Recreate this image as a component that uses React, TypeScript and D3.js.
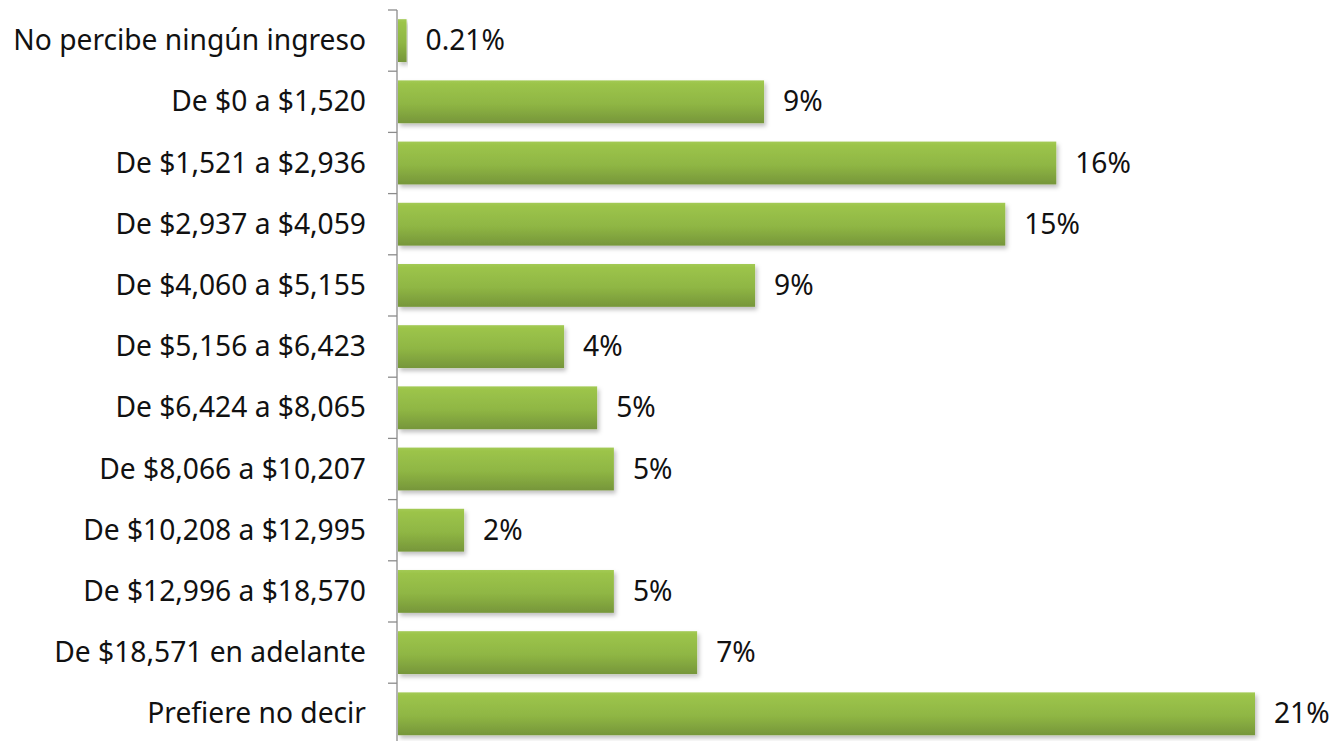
import React, { useEffect, useRef } from "react";
import * as d3 from "d3";

const categories = [
  "No percibe ningún ingreso",
  "De $0 a $1,520",
  "De $1,521 a $2,936",
  "De $2,937 a $4,059",
  "De $4,060 a $5,155",
  "De $5,156 a $6,423",
  "De $6,424 a $8,065",
  "De $8,066 a $10,207",
  "De $10,208 a $12,995",
  "De $12,996 a $18,570",
  "De $18,571 en adelante",
  "Prefiere no decir",
];

const values = [0.21, 8.97, 16.13, 14.88, 8.75, 4.07, 4.88, 5.29, 1.62, 5.29, 7.33, 21];

const valueLabels = ["0.21%", "9%", "16%", "15%", "9%", "4%", "5%", "5%", "2%", "5%", "7%", "21%"];

const W = 1336;
const H = 741;

const App: React.FC = () => {
  const svgRef = useRef<SVGSVGElement | null>(null);

  useEffect(() => {
    if (!svgRef.current) return;
    const svg = d3.select(svgRef.current);
    svg.selectAll("*").remove();

    const axisX = 397;
    const font = "'Noto Sans', sans-serif";
    const fontSize = 28.2;

    const x = d3.scaleLinear().domain([0, 21]).range([axisX + 1, 1255]);
    const y = d3
      .scaleBand<string>()
      .domain(categories)
      .range([10, 10 + 61.2 * categories.length])
      .paddingInner(0.3)
      .paddingOuter(0.15);

    const defs = svg.append("defs");
    const grad = defs
      .append("linearGradient")
      .attr("id", "barGrad")
      .attr("x1", 0)
      .attr("y1", 0)
      .attr("x2", 0)
      .attr("y2", 1);
    grad.append("stop").attr("offset", "0%").attr("stop-color", "#a3ca55");
    grad.append("stop").attr("offset", "8%").attr("stop-color", "#9cc44a");
    grad.append("stop").attr("offset", "55%").attr("stop-color", "#8fb644");
    grad.append("stop").attr("offset", "100%").attr("stop-color", "#76963a");

    const shadow = defs
      .append("filter")
      .attr("id", "shadow")
      .attr("x", "-5%")
      .attr("y", "-20%")
      .attr("width", "115%")
      .attr("height", "150%");
    shadow
      .append("feDropShadow")
      .attr("dx", 2)
      .attr("dy", 3)
      .attr("stdDeviation", 2)
      .attr("flood-color", "#000")
      .attr("flood-opacity", 0.25);

    svg.append("rect").attr("width", W).attr("height", H).attr("fill", "#fff");

    svg
      .append("g")
      .selectAll("rect")
      .data(values)
      .enter()
      .append("rect")
      .attr("x", x(0))
      .attr("y", (_, i) => y(categories[i])!)
      .attr("width", (d) => x(d) - x(0))
      .attr("height", y.bandwidth())
      .attr("fill", "url(#barGrad)")
      .attr("filter", "url(#shadow)");

    // value labels
    svg
      .append("g")
      .selectAll("text")
      .data(values)
      .enter()
      .append("text")
      .attr("x", (d) => x(d) + 19)
      .attr("y", (_, i) => y(categories[i])! + y.bandwidth() / 2)
      .attr("dy", "0.34em")
      .attr("font-family", font)
      .attr("font-size", fontSize)
      .attr("fill", "#111")
      .text((_, i) => valueLabels[i]);

    // category axis
    const axisG = svg.append("g");
    axisG
      .append("line")
      .attr("x1", axisX)
      .attr("x2", axisX)
      .attr("y1", 10)
      .attr("y2", H)
      .attr("stroke", "#8c8c8c")
      .attr("stroke-width", 1.3);

    const step = y.step();
    const tickYs = d3.range(categories.length + 1).map((i) => 10 + i * step);
    axisG
      .selectAll("line.tick")
      .data(tickYs)
      .enter()
      .append("line")
      .attr("class", "tick")
      .attr("x1", axisX - 9)
      .attr("x2", axisX)
      .attr("y1", (d) => d)
      .attr("y2", (d) => d)
      .attr("stroke", "#8c8c8c")
      .attr("stroke-width", 1.3);

    axisG
      .selectAll("text")
      .data(categories)
      .enter()
      .append("text")
      .attr("x", 366)
      .attr("y", (d) => y(d)! + y.bandwidth() / 2)
      .attr("dy", "0.34em")
      .attr("text-anchor", "end")
      .attr("font-family", font)
      .attr("font-size", fontSize)
      .attr("fill", "#111")
      .text((d) => d);
  }, []);

  return (
    <svg
      ref={svgRef}
      width={W}
      height={H}
      style={{ position: "absolute", left: 0, top: 0, display: "block" }}
    ></svg>
  );
};

export default App;
